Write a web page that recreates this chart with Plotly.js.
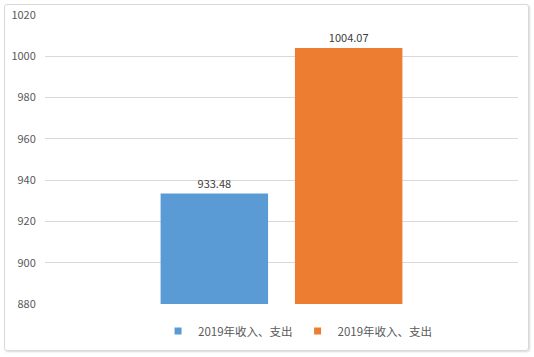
<!DOCTYPE html>
<html>
<head>
<meta charset="utf-8">
<script src="https://cdn.plot.ly/plotly-3.0.1.min.js"></script>
<style>
html,body{margin:0;padding:0;background:#fff;}
#wrap{position:relative;width:534px;height:357px;}
#chart{position:absolute;left:0;top:0;width:534px;height:357px;}
#frame{position:absolute;left:4px;top:4px;width:523px;height:345px;border:1px solid #d9d9d9;border-radius:3px;pointer-events:none;box-shadow:1px 1px 2px rgba(0,0,0,0.15);}
</style>
</head>
<body>
<div id="wrap"><div id="chart"></div><div id="frame"></div></div>
<script>
const categories = [""];
const seriesNames = ["2019年收入、支出", "2019年收入、支出"];
const seriesColors = ["#5B9BD5", "#ED7D31"];
const income = [933.48];
const expense = [1004.07];
const yTicks = [880, 900, 920, 940, 960, 980, 1000, 1020];

const font = "'Noto Sans CJK SC', 'Microsoft YaHei', sans-serif";
const traces = [
  {type:"bar", name:seriesNames[0], x:categories, y:income, marker:{color:seriesColors[0]},
   text:income.map(v=>v.toFixed(2)), textposition:"outside", cliponaxis:false, showlegend:false,
   textfont:{family:font,size:11,color:"#404040"}},
  {type:"bar", name:seriesNames[1], x:categories, y:expense, marker:{color:seriesColors[1]},
   text:expense.map(v=>v.toFixed(2)), textposition:"outside", cliponaxis:false, showlegend:false,
   textfont:{family:font,size:11,color:"#404040"}},
  {type:"scatter", mode:"markers", name:seriesNames[0], x:[null], y:[null],
   marker:{symbol:"square", size:7, color:seriesColors[0]}},
  {type:"scatter", mode:"markers", name:seriesNames[1], x:[null], y:[null],
   marker:{symbol:"square", size:7, color:seriesColors[1]}}
];
const layout = {
  width:534, height:357,
  margin:{l:45, r:16, t:15, b:52},
  paper_bgcolor:"#fff", plot_bgcolor:"#fff",
  font:{family:font, size:11, color:"#595959"},
  barmode:"group", bargap:0.432, bargroupgap:0.2,
  showlegend:true,
  legend:{orientation:"h", x:0.535, xanchor:"center", y:-0.04, yanchor:"top",
          font:{family:font,size:11.5,color:"#595959"}, itemwidth:30},
  xaxis:{type:"category", showticklabels:false, showgrid:false, zeroline:false, showline:false, fixedrange:true},
  yaxis:{range:[880,1020], tickvals:yTicks, ticktext:yTicks.map(String),
         showgrid:true, gridcolor:"#d9d9d9", gridwidth:1, zeroline:false, showline:false,
         ticks:"outside", ticklen:6, tickcolor:"rgba(0,0,0,0)",
         tickfont:{family:font,size:11,color:"#595959"}}
};
Plotly.newPlot("chart", traces, layout, {displayModeBar:false, staticPlot:true});
</script>
</body>
</html>
